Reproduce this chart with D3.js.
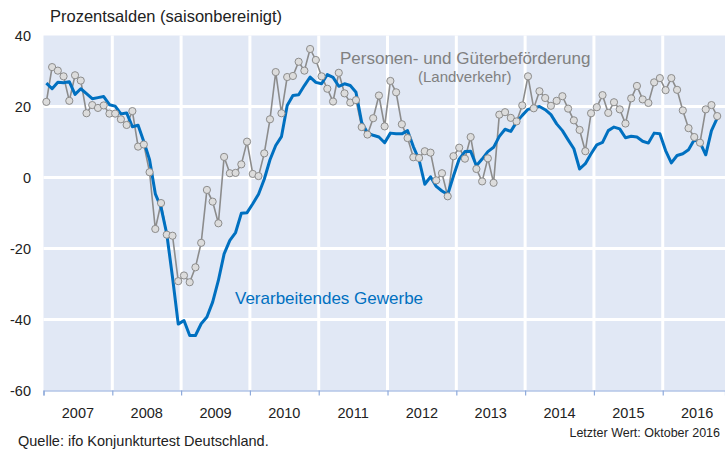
<!DOCTYPE html>
<html>
<head>
<meta charset="utf-8">
<script src="https://cdn.jsdelivr.net/npm/d3@7"></script>
<style>
  body { margin: 0; background: #fff; }
  svg { font-family: "Liberation Sans", Arial, sans-serif; }
</style>
</head>
<body>
<div id="chart"></div>
<script>
// monthly values, Jan 2007 - Oct 2016
var startYear = 2007;
var years = ["2007", "2008", "2009", "2010", "2011", "2012", "2013", "2014", "2015", "2016"];
var yTicks = [40, 20, 0, -20, -40, -60];

// Verarbeitendes Gewerbe
var manufacturing = [
  26.6, 25.0, 26.8, 26.7, 27.0, 23.4, 25.0, 23.6, 22.2, 22.5, 22.8, 20.5,
  20.1, 17.9, 18.2, 14.3, 14.7, 10.1, 5.0, -4.6, -8.4, -15.9, -28.1, -41.3,
  -40.3, -44.5, -44.5, -41.2, -39.3, -35.1, -29.0, -21.5, -17.7, -15.5, -10.1, -9.9,
  -7.4, -4.7, -0.5, 5.0, 9.0, 11.5, 20.3, 23.1, 23.3, 25.9, 28.3, 26.8,
  26.4, 29.0, 28.2, 25.7, 26.4, 25.9, 24.0, 15.5, 12.6, 11.9, 11.4, 9.8,
  12.5, 12.3, 12.3, 13.2, 8.7, 5.0, -1.9, 0.2, -2.5, -3.8, -4.8, 0.4,
  5.2, 7.3, 7.4, 3.3, 5.2, 7.3, 8.5, 11.6, 13.6, 13.0, 15.6, 17.5,
  19.2, 19.6, 20.0, 19.1, 17.7, 15.1, 13.2, 10.6, 8.1, 2.4, 3.9, 6.7,
  9.2, 9.9, 13.2, 14.2, 13.7, 11.2, 11.6, 11.4, 10.2, 9.7, 12.5, 12.3,
  7.6, 4.1, 6.2, 6.7, 7.8, 10.6, 9.9, 6.4, 13.2, 16.7
];

// Personen- und Gueterbefoerderung (Landverkehr)
var transport = [
  21.3, 31.1, 30.1, 28.5, 21.6, 28.8, 27.3, 18.1, 20.4, 19.6, 20.3, 18.0,
  18.0, 16.4, 14.8, 18.7, 8.7, 9.3, 1.5, -14.5, -7.2, -16.1, -16.4, -29.2,
  -27.6, -29.5, -25.3, -18.4, -3.5, -6.8, -12.9, 5.8, 1.2, 1.3, 3.7, 10.1,
  1.0, 0.4, 6.8, 16.4, 29.7, 18.1, 28.3, 28.6, 32.6, 30.1, 36.2, 33.1,
  28.5, 25.0, 21.4, 29.5, 23.7, 21.1, 21.8, 14.2, 12.1, 16.7, 23.1, 14.4,
  27.2, 24.0, 15.0, 11.1, 5.7, 5.5, 7.4, 7.0, -0.8, 1.2, -5.3, 6.0,
  8.4, 5.3, 11.4, 2.4, -1.1, 5.4, -1.5, 17.7, 18.4, 16.8, 15.8, 20.3,
  28.5, 19.5, 24.3, 22.4, 20.2, 21.6, 22.9, 19.4, 16.1, 13.4, 7.4, 18.1,
  19.8, 23.2, 18.2, 21.2, 19.2, 15.2, 22.3, 25.8, 22.0, 21.0, 26.8, 28.0,
  24.6, 28.0, 24.7, 18.9, 13.9, 11.4, 9.8, 19.2, 20.4, 17.3
];

var width = 725, height = 450;
var plot = {left: 43.5, right: 725, top: 35.5, bottom: 390.5};

var svg = d3.select("#chart")
  .append("svg")
  .attr("width", width)
  .attr("height", height);

// x in fractional years, points sit mid-month
var x = d3.scaleLinear()
  .domain([startYear, 2016.905])
  .range([plot.left, plot.right]);
var y = d3.scaleLinear()
  .domain([-60, 40])
  .range([plot.bottom, plot.top]);

function monthX(i) { return x(startYear + (i + 0.5) / 12); }

// background
svg.append("rect")
  .attr("x", plot.left)
  .attr("y", plot.top)
  .attr("width", plot.right - plot.left)
  .attr("height", plot.bottom - plot.top)
  .attr("fill", "#e1e8f5");

// white grid
svg.selectAll("line.hgrid")
  .data(yTicks.filter(function(d) { return d > -60 && d < 40; }))
  .enter()
  .append("line")
    .attr("x1", plot.left)
    .attr("x2", plot.right)
    .attr("y1", function(d) { return y(d); })
    .attr("y2", function(d) { return y(d); })
    .attr("stroke", "#fff")
    .attr("stroke-width", 3);

svg.selectAll("line.vgrid")
  .data(years.slice(1))
  .enter()
  .append("line")
    .attr("x1", function(d) { return x(+d); })
    .attr("x2", function(d) { return x(+d); })
    .attr("y1", plot.top)
    .attr("y2", plot.bottom)
    .attr("stroke", "#fff")
    .attr("stroke-width", 3);

// bottom axis with ticks at year boundaries, labels centered in year
var xAxis = d3.axisBottom(x)
  .tickValues(years.map(function(d) { return +d; }))
  .tickSize(5)
  .tickFormat("");
var gx = svg.append("g")
  .attr("transform", "translate(0," + plot.bottom + ")")
  .call(xAxis);
gx.select(".domain").attr("stroke", "#8eaadb").attr("stroke-width", 1.2);
gx.selectAll(".tick line").attr("stroke", "#8eaadb").attr("stroke-width", 1.2);

svg.selectAll("text.year")
  .data(years)
  .enter()
  .append("text")
    .attr("x", function(d) { return x(+d + 0.5); })
    .attr("y", 418)
    .attr("text-anchor", "middle")
    .attr("font-size", "14.5px")
    .attr("fill", "#222")
    .text(function(d) { return d; });

// y labels
svg.selectAll("text.ylab")
  .data(yTicks)
  .enter()
  .append("text")
    .attr("x", 31)
    .attr("y", function(d) { return y(d) + 5; })
    .attr("text-anchor", "end")
    .attr("font-size", "14.5px")
    .attr("fill", "#222")
    .text(function(d) { return d; });

// gray series with markers
var lineT = d3.line()
  .x(function(d, i) { return monthX(i); })
  .y(function(d) { return y(d); });

svg.append("path")
  .datum(transport)
  .attr("d", lineT)
  .attr("fill", "none")
  .attr("stroke", "#8c8c8c")
  .attr("stroke-width", 1.6);

// blue series
svg.append("path")
  .datum(manufacturing)
  .attr("d", lineT)
  .attr("fill", "none")
  .attr("stroke", "#0070c0")
  .attr("stroke-width", 3)
  .attr("stroke-linejoin", "round");

svg.selectAll("circle.t")
  .data(transport)
  .enter()
  .append("circle")
    .attr("cx", function(d, i) { return monthX(i); })
    .attr("cy", function(d) { return y(d); })
    .attr("r", 3.6)
    .attr("fill", "#dcdcdc")
    .attr("stroke", "#8c8c8c")
    .attr("stroke-width", 1);

// labels
svg.append("text")
  .attr("x", 50).attr("y", 22)
  .attr("font-size", "16.5px")
  .attr("fill", "#222")
  .text("Prozentsalden (saisonbereinigt)");

svg.append("text")
  .attr("x", 340).attr("y", 64)
  .attr("font-size", "17px")
  .attr("fill", "#808080")
  .text("Personen- und Güterbeförderung");

svg.append("text")
  .attr("x", 418).attr("y", 82)
  .attr("font-size", "15px")
  .attr("fill", "#808080")
  .text("(Landverkehr)");

svg.append("text")
  .attr("x", 235).attr("y", 304)
  .attr("font-size", "17px")
  .attr("fill", "#0070c0")
  .text("Verarbeitendes Gewerbe");

svg.append("text")
  .attr("x", 18).attr("y", 446)
  .attr("font-size", "14.5px")
  .attr("fill", "#222")
  .text("Quelle: ifo Konjunkturtest Deutschland.");

svg.append("text")
  .attr("x", 720).attr("y", 437)
  .attr("text-anchor", "end")
  .attr("font-size", "12.5px")
  .attr("fill", "#222")
  .text("Letzter Wert: Oktober 2016");
</script>
</body>
</html>
